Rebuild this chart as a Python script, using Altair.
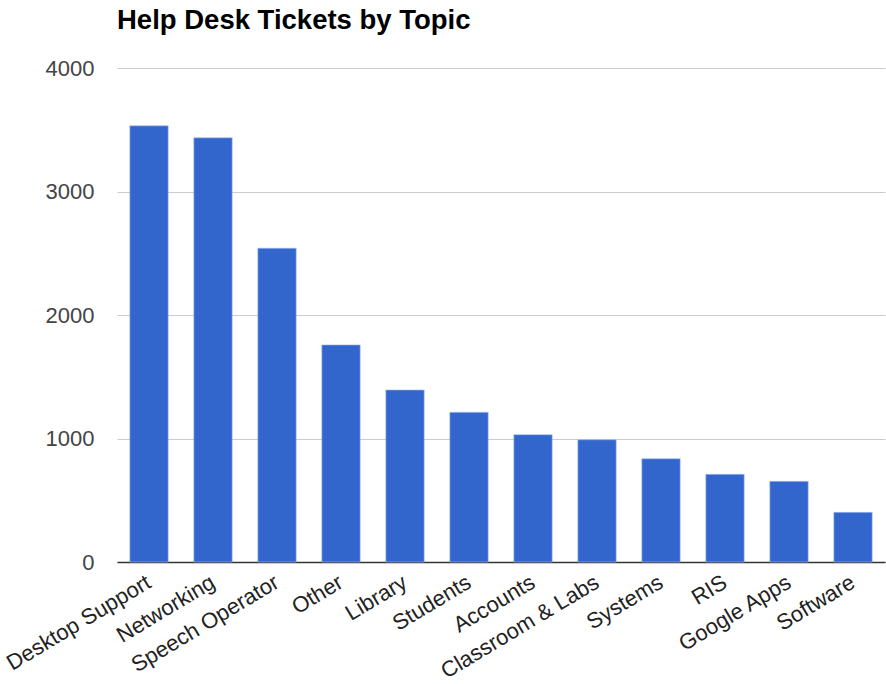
import altair as alt
import pandas as pd

topics = ["Desktop Support", "Networking", "Speech Operator", "Other", "Library",
          "Students", "Accounts", "Classroom & Labs", "Systems", "RIS",
          "Google Apps", "Software"]
tickets = [3532, 3435, 2541, 1758, 1393, 1212, 1031, 990, 836, 710, 653, 402]
y_ticks = [0, 1000, 2000, 3000, 4000]

df = pd.DataFrame({"topic": topics, "tickets": tickets})

chart = alt.Chart(df).mark_bar(color="#3366cc", stroke="#a9bfee", strokeWidth=0.6).encode(
    x=alt.X("topic:N", sort=topics, title=None,
            scale=alt.Scale(paddingInner=0.4, paddingOuter=0.2),
            axis=alt.Axis(labelAngle=329, labelAlign="right", labelBaseline="middle",
                          labelPadding=18, labelFontSize=22, labelColor="#222222",
                          labelFont="Liberation Sans", ticks=False, domainColor="#333333",
                          domainWidth=1.5, grid=False, labelOverlap=False)),
    y=alt.Y("tickets:Q", title=None,
            scale=alt.Scale(domain=[0, 4000], nice=False),
            axis=alt.Axis(values=y_ticks, format="d", domain=False, ticks=False,
                          gridColor="#cccccc",
                          labelFontSize=22, labelColor="#444444", labelFont="Liberation Sans",
                          labelPadding=23)),
).properties(
    width=768,
    height=494,
    title=alt.TitleParams("Help Desk Tickets by Topic", anchor="start", frame="group",
                          fontSize=27.5, font="Liberation Sans", fontWeight="bold",
                          color="#000000", offset=23),
    autosize=alt.AutoSizeParams(type="none"),
    padding={"left": 117, "top": 68, "right": 1, "bottom": 122},
).configure(background="white").configure_view(strokeWidth=0, stroke="transparent")

chart.save("out.html", embed_options={"renderer": "svg", "actions": False})
